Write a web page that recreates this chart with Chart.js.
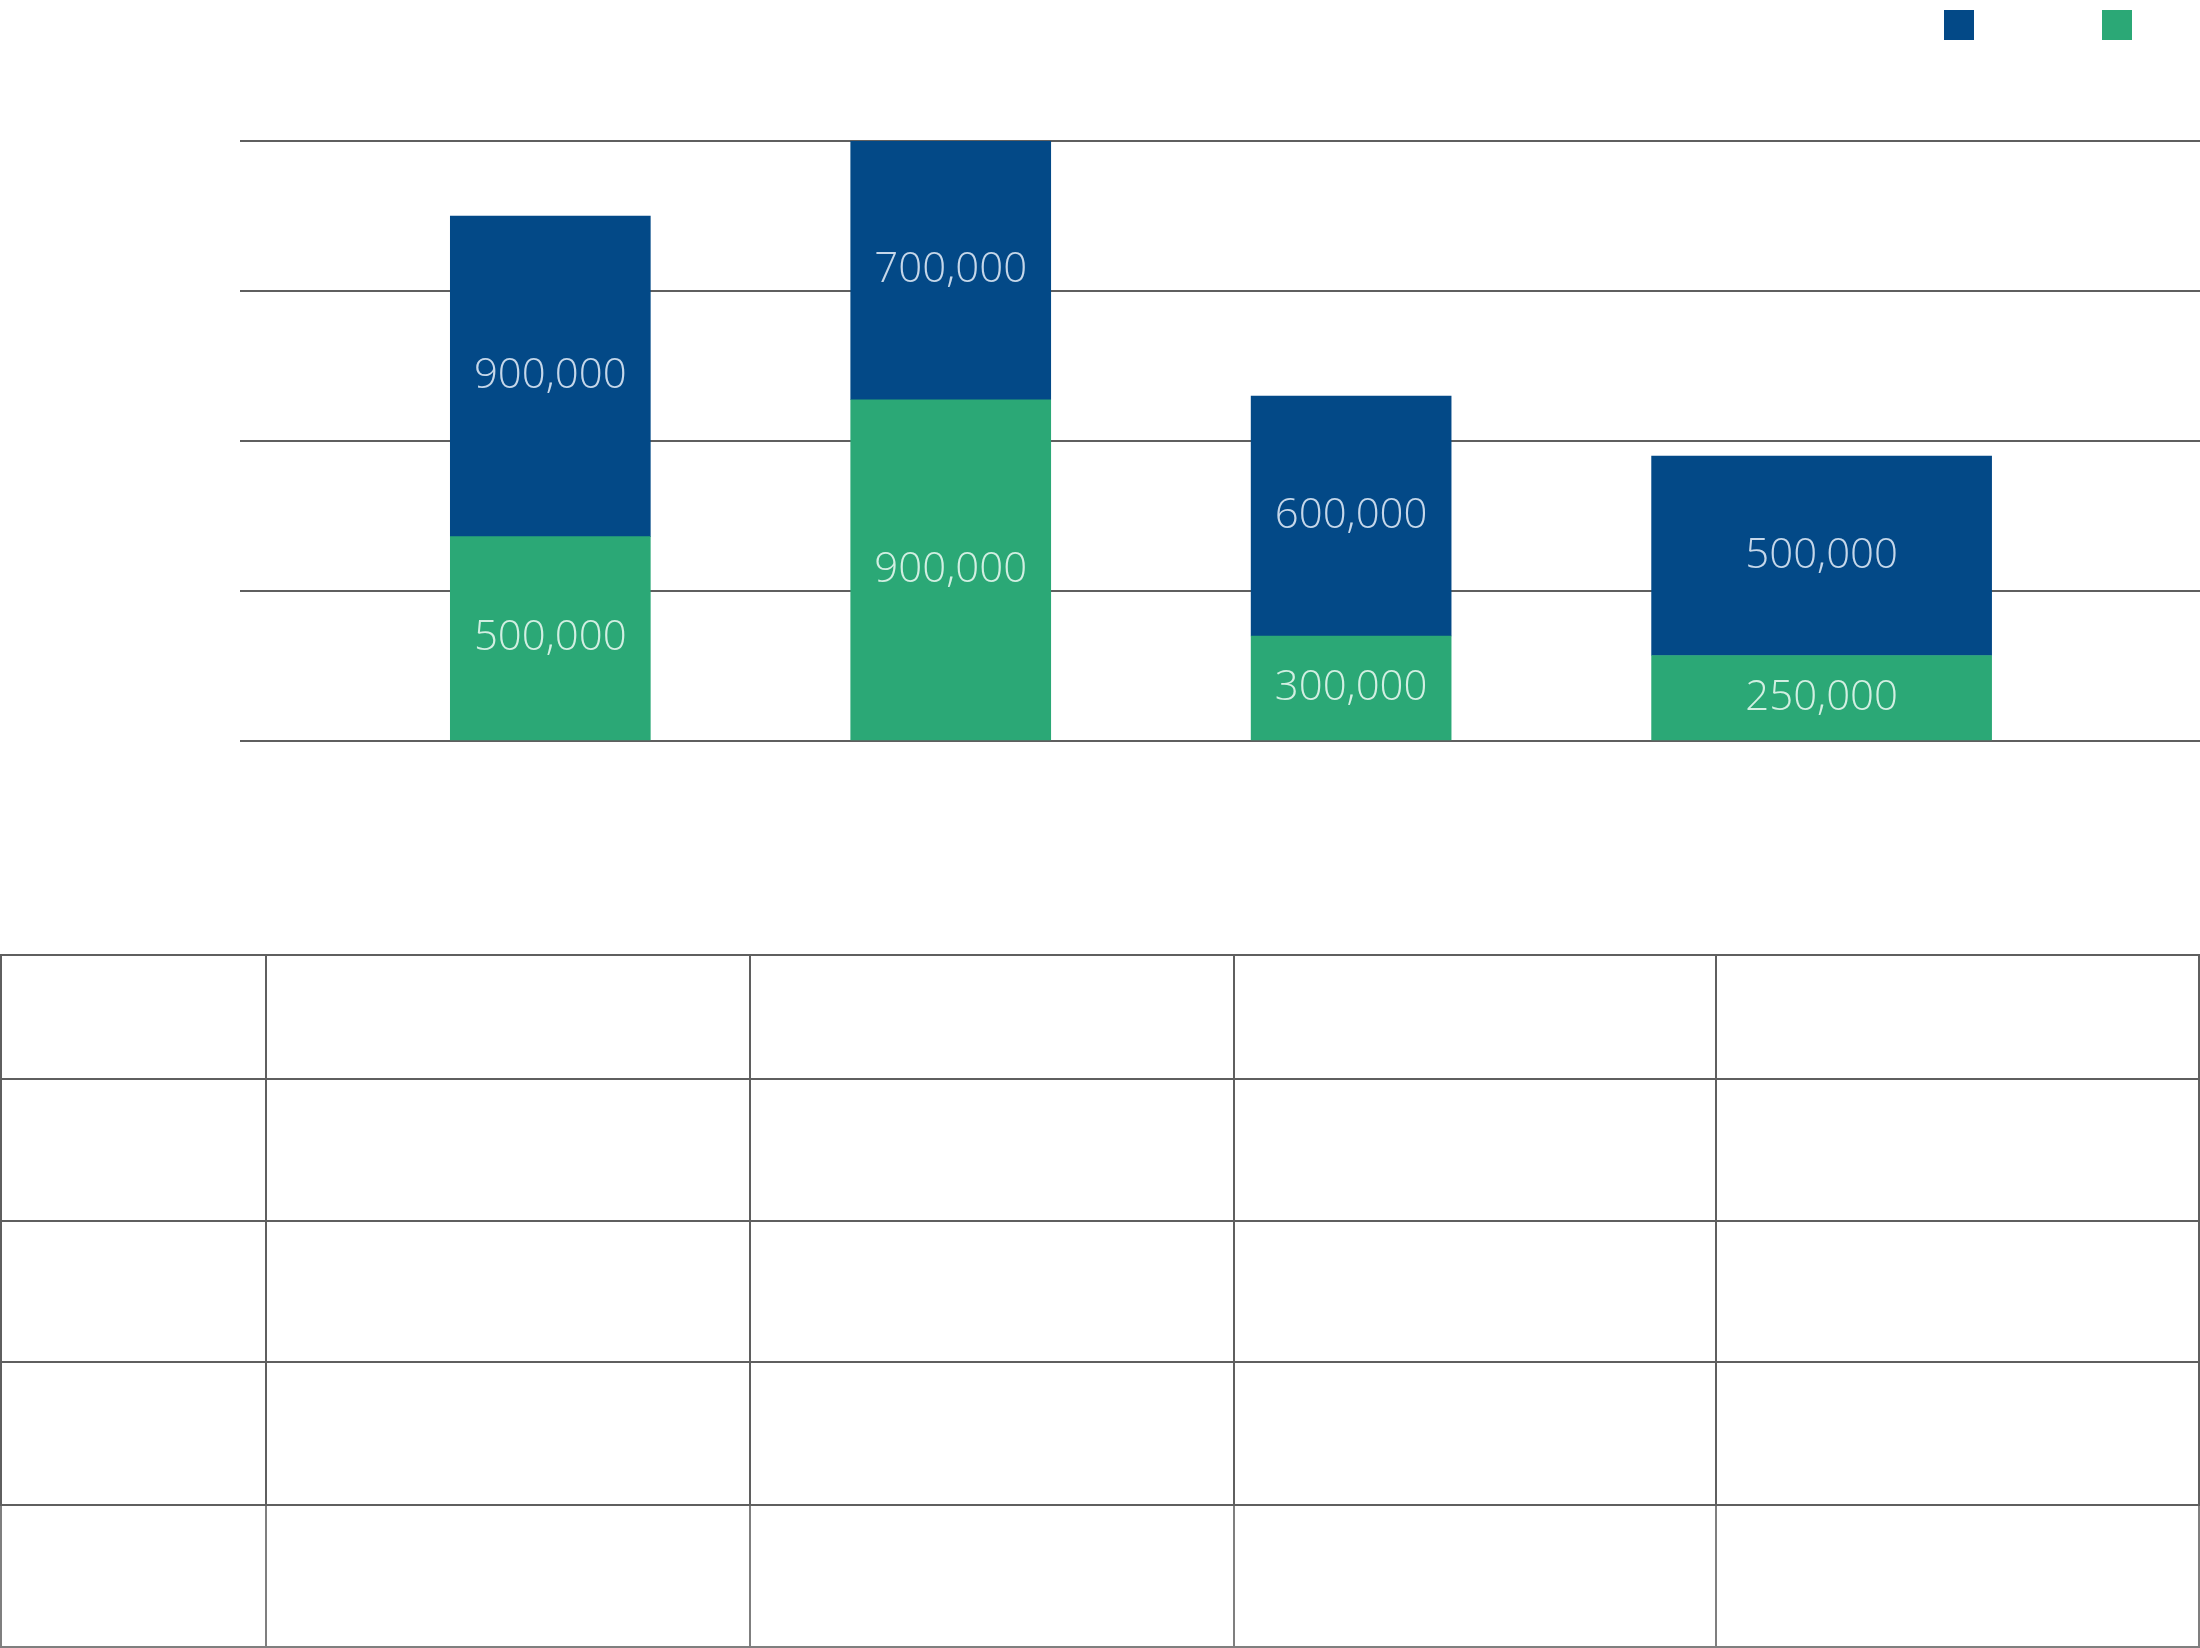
<!DOCTYPE html>
<html>
<head>
<meta charset="utf-8">
<script src="https://cdn.jsdelivr.net/npm/chart.js@4.4.1/dist/chart.umd.min.js"></script>
<style>
  html, body { margin: 0; padding: 0; background: #fff; }
  #chartBox { position: relative; width: 2200px; height: 954px; }
  #grid { border-collapse: collapse; table-layout: fixed; width: 2198px; }
  #grid td { border: 2px solid #5f5f5f; padding: 0; }
  #grid tr.last td { border-color: #7f7f7f; }
</style>
</head>
<body>
<div id="chartBox"><canvas id="stackChart"></canvas></div>
<table id="grid">
  <colgroup>
    <col style="width:265px"><col style="width:484px"><col style="width:484px"><col style="width:482px"><col style="width:483px">
  </colgroup>
  <tr style="height:124px"><td></td><td></td><td></td><td></td><td></td></tr>
  <tr style="height:142px"><td></td><td></td><td></td><td></td><td></td></tr>
  <tr style="height:141px"><td></td><td></td><td></td><td></td><td></td></tr>
  <tr style="height:143px"><td></td><td></td><td></td><td></td><td></td></tr>
  <tr class="last" style="height:142px"><td></td><td></td><td></td><td></td><td></td></tr>
</table>
<script>
// values; the printed labels are kept as text
const categories = ['1', '2', '3', '4'];
const greenValues = [545000, 910000, 280000, 228000];
const blueValues = [855000, 690000, 640000, 532000];
const greenLabels = ['500,000', '900,000', '300,000', '250,000'];
const blueLabels = ['900,000', '700,000', '600,000', '500,000'];
const yMax = 1600000;
const yStep = 400000;

const BLUE = '#034987';
const GREEN = '#2ba876';

// layout: the last bar is drawn wider than the others
const barSpans = [1, 1, 1, 1.7];
const leadGap = 1.05, gap = 1, trailGap = 1.04;
const plotLeft = 240;

const centers = [];
let pos = leadGap;
barSpans.forEach((s, i) => {
  centers.push(pos + s / 2);
  pos += s + (i < barSpans.length - 1 ? gap : trailGap);
});
const xMax = pos;
const unitPx = (2200 - plotLeft) / xMax;

const datasets = [];
[...new Set(barSpans)].forEach(span => {
  const idx = categories.map((c, i) => i).filter(i => barSpans[i] === span);
  datasets.push({
    label: 'green',
    data: idx.map(i => ({ x: centers[i], y: greenValues[i] })),
    valueLabels: idx.map(i => greenLabels[i]),
    labelColor: 'rgba(225,245,236,0.92)',
    backgroundColor: GREEN,
    barThickness: Math.round(span * unitPx)
  });
  datasets.push({
    label: 'blue',
    data: idx.map(i => ({ x: centers[i], y: blueValues[i] })),
    valueLabels: idx.map(i => blueLabels[i]),
    labelColor: 'rgba(215,228,242,0.92)',
    backgroundColor: BLUE,
    barThickness: Math.round(span * unitPx)
  });
});

const barLabels = {
  id: 'barLabels',
  afterDatasetsDraw(chart) {
    const ctx = chart.ctx;
    ctx.save();
    ctx.font = '300 42px "Open Sans", Roboto, sans-serif';
    ctx.textAlign = 'center';
    ctx.textBaseline = 'middle';
    chart.data.datasets.forEach((ds, di) => {
      chart.getDatasetMeta(di).data.forEach((bar, i) => {
        ctx.fillStyle = ds.labelColor;
        ctx.fillText(ds.valueLabels[i], bar.x, (bar.y + bar.base) / 2);
      });
    });
    ctx.restore();
  }
};

// legend: two colour squares, no text
const legendSwatches = {
  id: 'legendSwatches',
  afterDraw(chart) {
    const ctx = chart.ctx;
    const w = chart.width;
    ctx.save();
    ctx.fillStyle = BLUE;
    ctx.fillRect(w - 256, 10, 30, 30);
    ctx.fillStyle = GREEN;
    ctx.fillRect(w - 98, 10, 30, 30);
    ctx.restore();
  }
};

const ctx = document.getElementById('stackChart').getContext('2d');
const stackChart = new Chart(ctx, {
  type: 'bar',
  data: { datasets: datasets },
  plugins: [barLabels, legendSwatches],
  options: {
    responsive: true,
    maintainAspectRatio: false,
    animation: false,
    devicePixelRatio: 1,
    layout: { padding: { top: 141, left: plotLeft, right: 0, bottom: 213 } },
    plugins: {
      legend: { display: false },
      tooltip: { enabled: false }
    },
    scales: {
      x: {
        type: 'linear',
        stacked: true,
        display: false,
        offset: false,
        grid: { offset: false },
        min: 0,
        max: xMax
      },
      y: {
        stacked: true,
        min: 0,
        max: yMax,
        ticks: { display: false, stepSize: yStep },
        grid: { color: '#5f5f5f', lineWidth: 2, drawTicks: false },
        border: { display: false }
      }
    }
  }
});
</script>
</body>
</html>
